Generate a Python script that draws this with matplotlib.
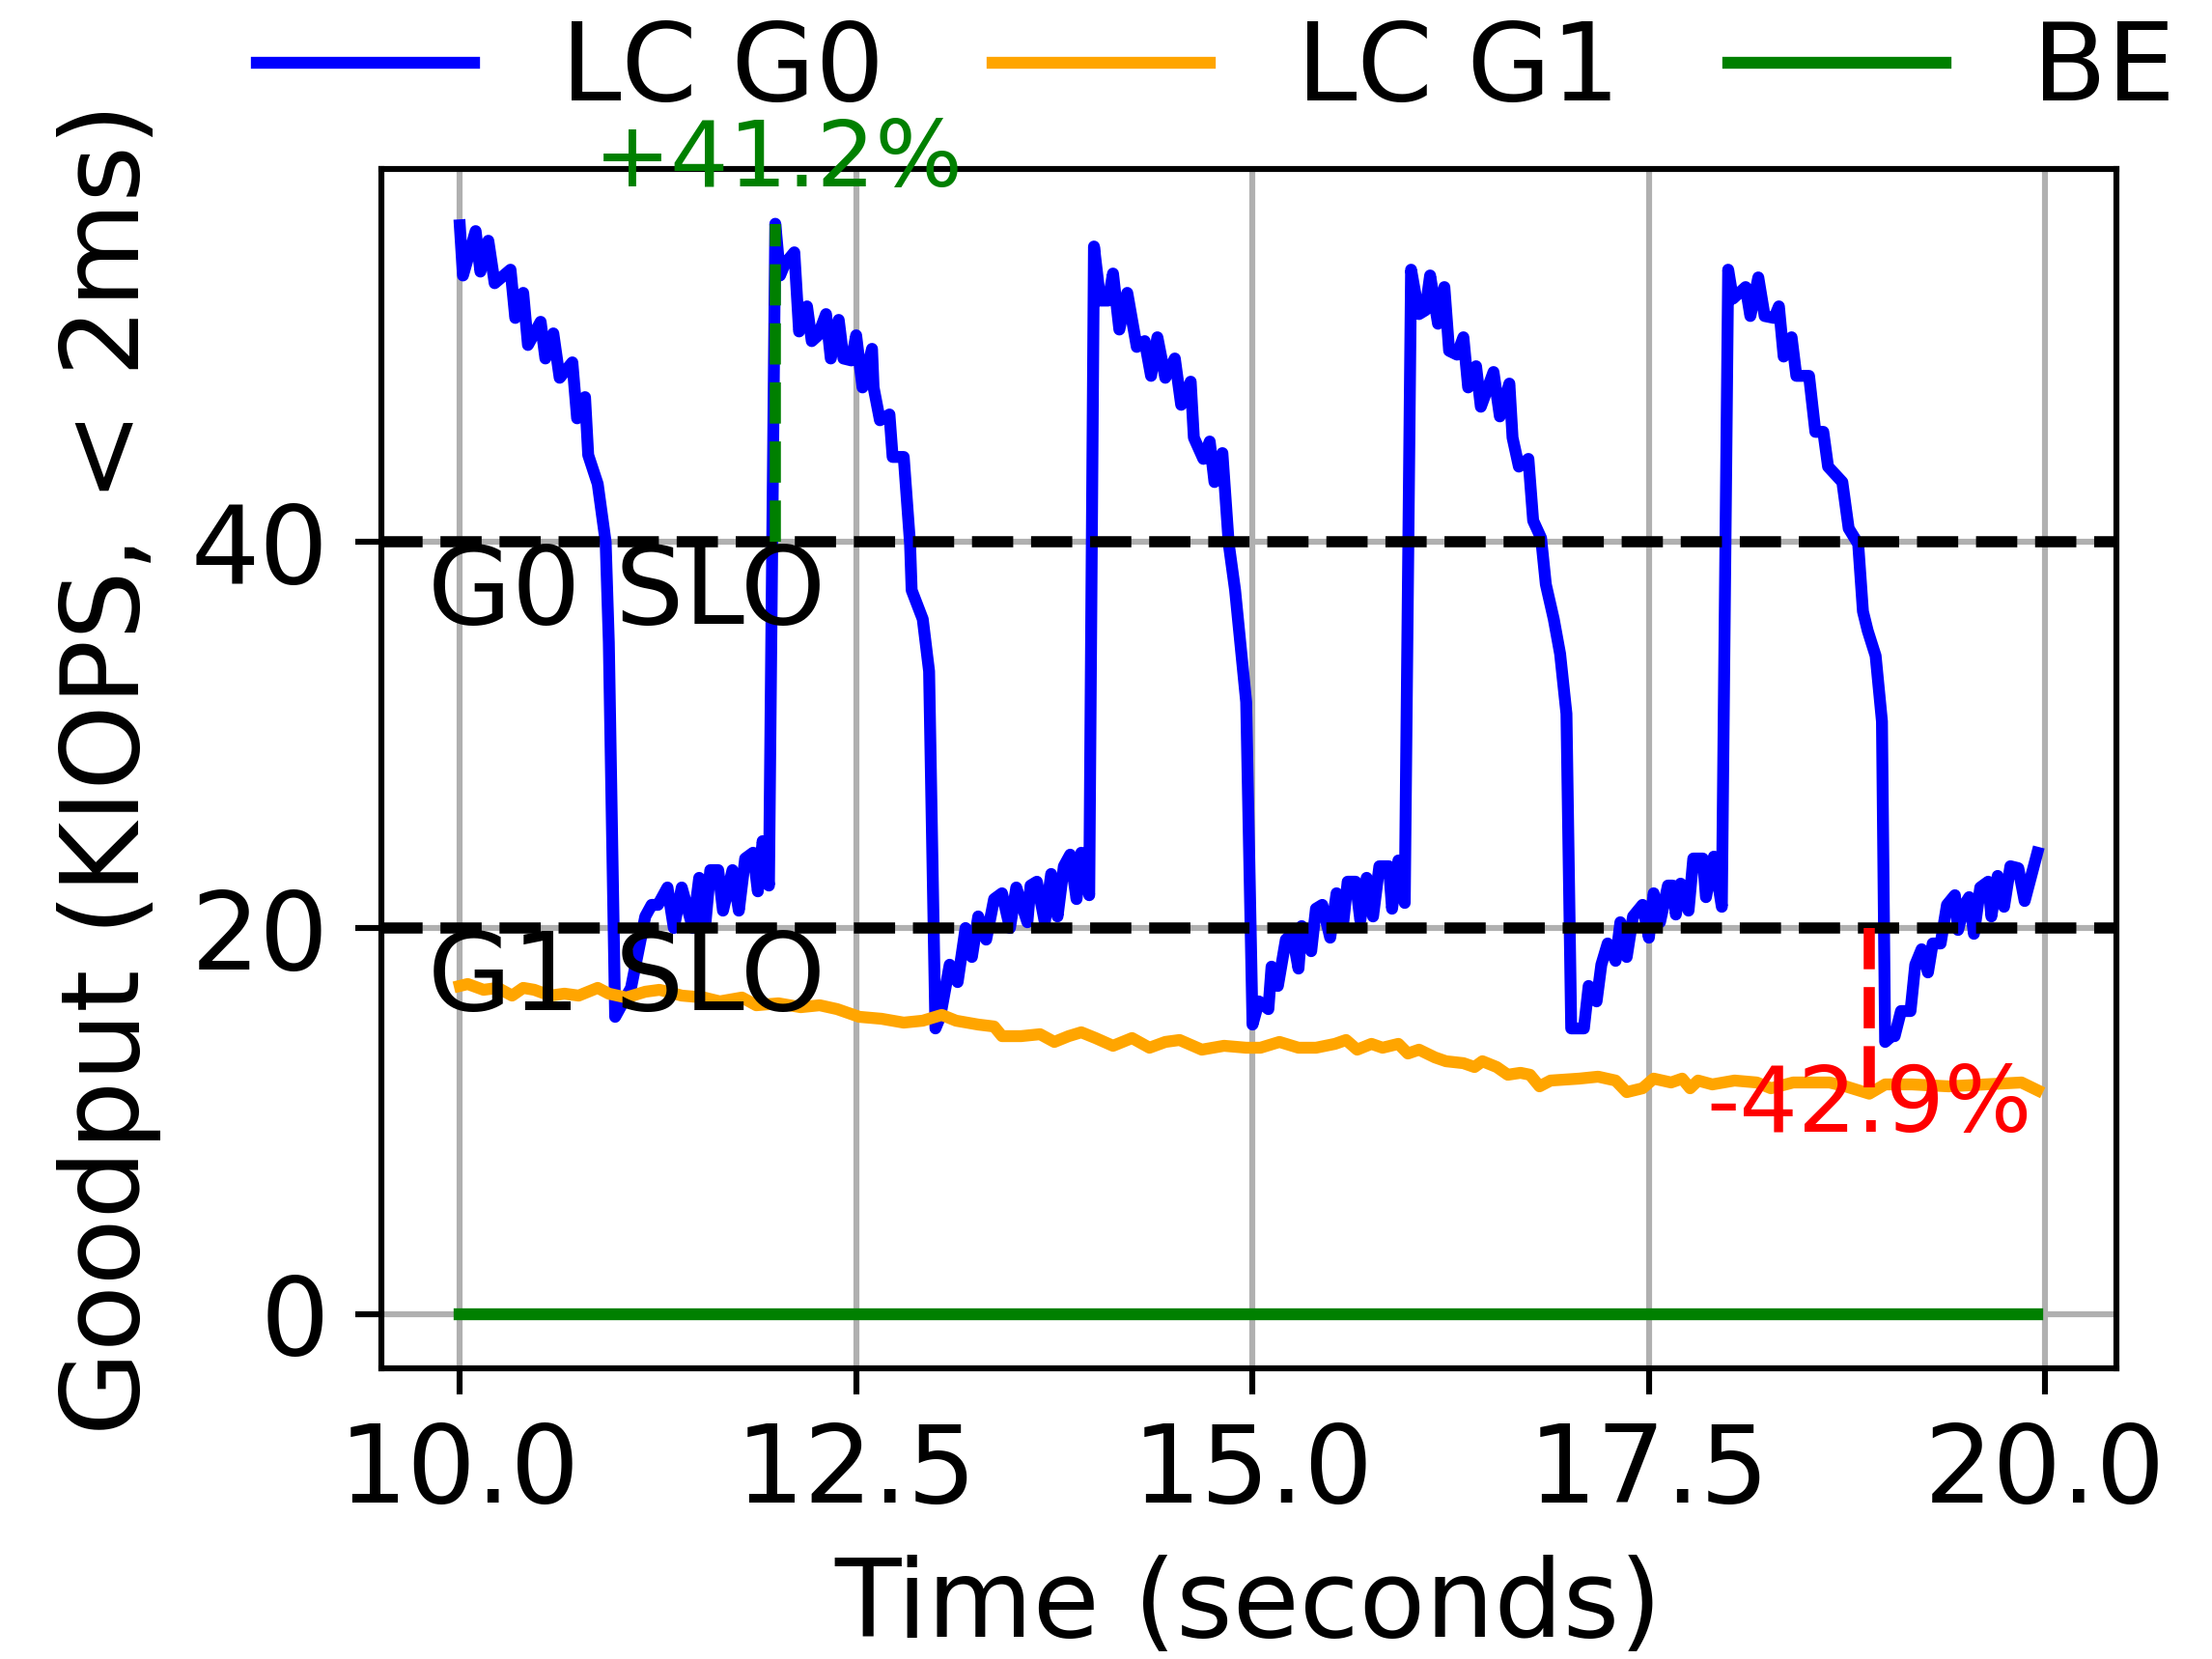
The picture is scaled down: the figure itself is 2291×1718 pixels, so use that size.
import matplotlib
matplotlib.use("Agg")
import matplotlib.pyplot as plt

plt.rcParams["font.size"] = 14.6

# LC G0 goodput (KIOPS) over time (s)
g0_time = [10.00, 10.02, 10.10, 10.13, 10.18, 10.22, 10.32, 10.35, 10.40, 10.43,
           10.51, 10.54, 10.59, 10.63, 10.71, 10.74, 10.79, 10.81, 10.87, 10.92,
           10.94, 10.98, 11.04, 11.08, 11.17, 11.21, 11.25, 11.31, 11.35, 11.40,
           11.47, 11.51, 11.55, 11.58, 11.63, 11.66, 11.72, 11.76, 11.80, 11.85,
           11.88, 11.91, 11.95, 11.99,
           12.02, 12.05, 12.11, 12.14, 12.19, 12.22, 12.26, 12.31, 12.34, 12.39,
           12.42, 12.47, 12.50, 12.54, 12.60, 12.61, 12.65, 12.71, 12.73, 12.80,
           12.84, 12.85, 12.92, 12.96, 13.00, 13.03, 13.09, 13.14, 13.19, 13.23,
           13.27, 13.32, 13.37, 13.42, 13.47, 13.51, 13.58, 13.60, 13.64, 13.69,
           13.73, 13.77, 13.81, 13.85, 13.89, 13.92, 13.97,
           14.00, 14.04, 14.09, 14.12, 14.16, 14.21, 14.27, 14.32, 14.36, 14.40,
           14.45, 14.51, 14.55, 14.61, 14.63, 14.69, 14.73, 14.76, 14.81, 14.85,
           14.89, 14.96, 15.00, 15.04, 15.10, 15.12, 15.16, 15.21, 15.25, 15.29,
           15.31, 15.37, 15.40, 15.44, 15.49, 15.53, 15.57, 15.60, 15.65, 15.68,
           15.72, 15.76, 15.80, 15.86, 15.88, 15.92, 15.96,
           16.00, 16.05, 16.09, 16.12, 16.17, 16.21, 16.24, 16.29, 16.33, 16.36,
           16.41, 16.44, 16.52, 16.56, 16.62, 16.64, 16.68, 16.74, 16.77, 16.82,
           16.85, 16.90, 16.94, 16.98, 17.01, 17.09, 17.12, 17.17, 17.20, 17.24,
           17.29, 17.32, 17.36, 17.40, 17.46, 17.50, 17.53, 17.57, 17.62, 17.65,
           17.67, 17.70, 17.75, 17.78, 17.84, 17.86, 17.91, 17.96,
           18.00, 18.03, 18.11, 18.14, 18.19, 18.23, 18.29, 18.32, 18.35, 18.40,
           18.43, 18.51, 18.55, 18.60, 18.63, 18.72, 18.76, 18.82, 18.85, 18.88,
           18.93, 18.97, 18.99, 19.03, 19.05, 19.09, 19.15, 19.18, 19.22, 19.26,
           19.29, 19.34, 19.38, 19.43, 19.45, 19.49, 19.52, 19.55, 19.59, 19.64,
           19.66, 19.70, 19.74, 19.78, 19.83, 19.87, 19.95]
g0_kiops = [56.4, 53.8, 56.1, 54.0, 55.6, 53.4, 54.1, 51.6, 52.9, 50.2,
            51.4, 49.5, 50.8, 48.5, 49.3, 46.4, 47.5, 44.5, 43.0, 40.0,
            34.8, 15.4, 16.3, 16.9, 20.6, 21.2, 21.2, 22.1, 20.0, 22.1,
            20.0, 22.6, 20.3, 23.0, 23.0, 20.9, 23.0, 20.9, 23.6, 23.9,
            21.9, 24.5, 22.2, 56.48,
            53.8, 54.4, 55.0, 50.9, 52.2, 50.4, 50.7, 51.8, 49.5, 51.5,
            49.5, 49.4, 50.7, 48.0, 50.0, 48.0, 46.3, 46.6, 44.4, 44.4,
            39.9, 37.5, 36.0, 33.3, 14.8, 15.4, 18.1, 17.2, 20.0, 18.5,
            20.6, 19.4, 21.5, 21.8, 20.0, 22.1, 20.3, 22.2, 22.4, 20.3,
            22.8, 20.6, 23.2, 23.8, 21.5, 23.9, 21.7,
            55.3, 52.5, 52.5, 53.9, 51.0, 52.9, 50.1, 50.4, 48.6, 50.6,
            48.5, 49.5, 47.1, 48.3, 45.4, 44.3, 45.2, 43.1, 44.6, 39.9,
            37.5, 31.7, 15.0, 16.2, 15.8, 18.0, 17.0, 19.4, 19.7, 17.9,
            20.1, 18.8, 21.0, 21.2, 19.5, 21.8, 20.1, 22.4, 22.4, 20.4,
            22.6, 20.6, 23.2, 23.2, 21.0, 23.5, 21.3,
            54.1, 51.8, 52.0, 53.8, 51.3, 53.2, 49.9, 49.7, 50.6, 48.0,
            49.1, 47.0, 48.8, 46.5, 48.2, 45.4, 43.9, 44.3, 41.1, 40.2,
            37.8, 36.0, 34.2, 31.1, 14.8, 14.8, 17.0, 16.2, 18.1, 19.2,
            18.3, 20.3, 18.5, 20.6, 21.2, 19.5, 21.8, 20.3, 22.2, 22.2,
            20.7, 22.3, 20.9, 23.6, 23.6, 21.6, 23.7, 21.1,
            54.1, 52.6, 53.2, 51.7, 53.7, 51.7, 51.6, 52.2, 49.6, 50.6,
            48.6, 48.6, 45.7, 45.7, 43.9, 43.1, 40.7, 39.9, 36.4, 35.4,
            34.1, 30.7, 14.1, 14.4, 14.4, 15.7, 15.7, 18.1, 18.9, 17.7,
            19.2, 19.2, 21.2, 21.7, 19.9, 21.2, 21.6, 19.7, 22.1, 22.4,
            20.6, 22.7, 21.1, 23.2, 23.1, 21.4, 23.9]

# LC G1 goodput
g1_time = [10.00, 10.05, 10.15, 10.24, 10.33, 10.40, 10.47, 10.57, 10.66, 10.75,
           10.87, 10.94, 11.05, 11.17, 11.26, 11.40, 11.54, 11.64, 11.78, 11.87,
           12.01, 12.15, 12.27, 12.38, 12.52, 12.66, 12.80, 12.92, 13.04, 13.13,
           13.27, 13.37, 13.42, 13.54, 13.66, 13.75, 13.84, 13.92, 14.01, 14.12,
           14.24, 14.35, 14.45, 14.54, 14.68, 14.82, 14.96, 15.05, 15.17, 15.29,
           15.40, 15.52, 15.59, 15.66, 15.75, 15.82, 15.92, 15.98, 16.05, 16.15,
           16.22, 16.33, 16.40, 16.45, 16.54, 16.61, 16.69, 16.75, 16.81, 16.88,
           17.06, 17.18, 17.29, 17.36, 17.46, 17.53, 17.64, 17.71, 17.76, 17.81,
           17.90, 18.04, 18.18, 18.27, 18.41, 18.64, 18.74, 18.89, 18.99, 19.16,
           19.39, 19.62, 19.85, 19.95]
g1_kiops = [17.0, 17.1, 16.8, 16.9, 16.5, 16.9, 16.8, 16.5, 16.6, 16.5,
            16.9, 16.6, 16.4, 16.7, 16.8, 16.5, 16.4, 16.2, 16.4, 16.0,
            16.1, 15.9, 16.0, 15.8, 15.4, 15.3, 15.1, 15.2, 15.5, 15.2,
            15.0, 14.9, 14.4, 14.4, 14.5, 14.1, 14.4, 14.6, 14.3, 13.9,
            14.3, 13.8, 14.1, 14.2, 13.7, 13.9, 13.8, 13.8, 14.1, 13.8,
            13.8, 14.0, 14.2, 13.7, 14.0, 13.8, 14.0, 13.5, 13.7, 13.3,
            13.1, 13.0, 12.8, 13.1, 12.8, 12.4, 12.5, 12.4, 11.8, 12.1,
            12.2, 12.3, 12.1, 11.5, 11.7, 12.2, 12.0, 12.2, 11.7, 12.1,
            11.9, 12.1, 12.0, 11.7, 12.0, 12.0, 11.8, 11.42, 11.9, 11.9,
            11.8, 11.9, 12.0, 11.6]

# best-effort tenant gets nothing
be_time = [10.00, 19.95]
be_kiops = [0.0, 0.0]

g0_slo = 40
g1_slo = 20
peak_time, peak_val = 11.99, 56.48   # G0 burst above its SLO
dip_time, dip_val = 18.89, 11.42     # G1 shortfall below its SLO

DPI = 554
fig = plt.figure(figsize=(2291 / DPI, 1718 / DPI), dpi=DPI)
ax = fig.add_axes([0.1722, 0.175, 0.7845, 0.723])

ax.plot(g0_time, g0_kiops, color="blue", lw=1.6, label="LC G0")
ax.plot(g1_time, g1_kiops, color="orange", lw=1.6, label="LC G1")
ax.plot(be_time, be_kiops, color="green", lw=1.6, label="BE")

ax.axhline(g0_slo, color="black", ls="--", lw=1.5)
ax.axhline(g1_slo, color="black", ls="--", lw=1.5)
ax.text(9.8, g0_slo, "G0 SLO", ha="left", va="top")
ax.text(9.8, g1_slo, "G1 SLO", ha="left", va="top")

ax.plot([peak_time, peak_time], [g0_slo, peak_val], color="green", ls="--", lw=1.5)
gain = (peak_val / g0_slo - 1) * 100
ax.text(peak_time + 0.02, 58.4, "+%.1f%%" % gain, color="green", fontsize=12.4,
        ha="center", va="baseline", clip_on=False)

ax.plot([dip_time, dip_time], [g1_slo, dip_val], color="red", ls="--", lw=1.5)
loss = (dip_val / g1_slo - 1) * 100
ax.text(dip_time, 9.45, "%.1f%%" % loss, color="red", fontsize=12.4,
        ha="center", va="baseline")

ax.set_yticks([0, 20, 40])
ax.grid(True)
ax.set_xlabel("Time (seconds)")
ax.set_ylabel("Goodput (KIOPS, < 2ms)")

fig.legend(loc="center", bbox_to_anchor=(0.5497, 0.9575), ncol=3,
           frameon=False, columnspacing=1.0)

fig.savefig("out.png", dpi=DPI)
